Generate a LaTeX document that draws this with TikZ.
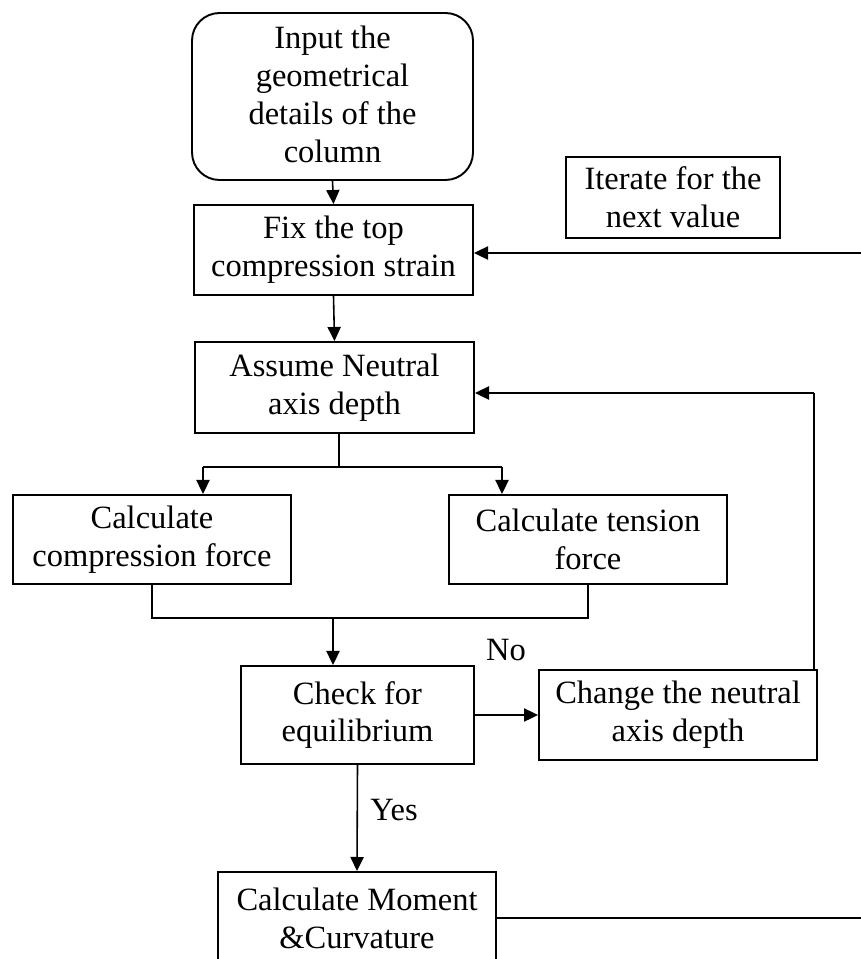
\documentclass[tikz,border=0pt]{standalone}
\usepackage{fontspec}
\setmainfont{Liberation Serif}
\usetikzlibrary{arrows.meta}
\begin{document}
\begin{tikzpicture}[x=0.02cm,y=-0.02cm,
  box/.style={draw, rectangle, line width=1.1pt, inner sep=0pt, align=center,
    font=\fontsize{18.5}{21.6}\selectfont},
  conn/.style={line width=0.9pt},
  arr/.style={conn, -{Triangle[length=8pt,width=7.5pt]}},
  lbl/.style={font=\fontsize{18.5}{21.6}\selectfont, inner sep=0pt}]
\useasboundingbox (0,0) rectangle (861,959);
\node[box, rounded corners=0.55cm, minimum width=5.62cm, minimum height=3.34cm, text depth=0.1cm] (input) at (332.5,96.5) {Input the\\geometrical\\details of the\\column};
\node[box, minimum width=5.58cm, minimum height=1.80cm] (fix) at (333.5,250) {Fix the top\\compression strain};
\node[box, minimum width=4.28cm, minimum height=1.62cm] (iter) at (673,197.5) {Iterate for the\\next value};
\node[box, minimum width=5.58cm, minimum height=1.82cm] (assume) at (334.5,387.5) {Assume Neutral\\axis depth};
\node[box, minimum width=5.56cm, minimum height=1.78cm] (comp) at (152,539.5) {Calculate\\compression force};
\node[box, minimum width=5.56cm, minimum height=1.78cm] (tens) at (588,539.5) {Calculate tension\\force};
\node[box, minimum width=4.66cm, minimum height=1.96cm] (check) at (357.5,715) {Check for\\equilibrium};
\node[box, minimum width=5.56cm, minimum height=1.80cm] (change) at (678,715) {Change the neutral\\axis depth};
\node[box, minimum width=5.56cm, minimum height=1.84cm] (moment) at (357,918) {Calculate Moment\\\&Curvature};
\node[lbl] (no) at (506,650) {No};
\node[lbl] (yes) at (394,810) {Yes};
% coordinates
\coordinate (split) at (339,467);
\coordinate (bl) at (203,467);
\coordinate (br) at (502,467);
\coordinate (mergeL) at (152,618);
\coordinate (mergeR) at (588,618);
\coordinate (mergeM) at (333,618);
\coordinate (backUp) at (814,393);
\coordinate (rightTop) at (861,253);
\coordinate (rightBot) at (861,918);
% connectors
\draw[arr] (input.south) -- (fix.north);
\draw[arr] (fix.south) -- (assume.north);
\draw[conn] (assume.south -| split) -- (split);
\draw[conn] (bl) -- (br);
\draw[arr] (bl) -- (bl |- comp.north);
\draw[arr] (br) -- (br |- tens.north);
\draw[conn] (comp.south) -- (mergeL) -- (mergeR) -- (tens.south);
\draw[arr] (mergeM) -- (mergeM |- check.north);
\draw[arr] (check.east) -- (change.west);
\draw[conn] (backUp |- change.north) -- (backUp);
\draw[arr] (backUp) -- (assume.east |- backUp);
\draw[arr] (check.south) -- (moment.north);
\draw[conn] (moment.east) -- (rightBot);
\draw[arr] (rightTop) -- (fix.east |- rightTop);
\end{tikzpicture}
\end{document}
